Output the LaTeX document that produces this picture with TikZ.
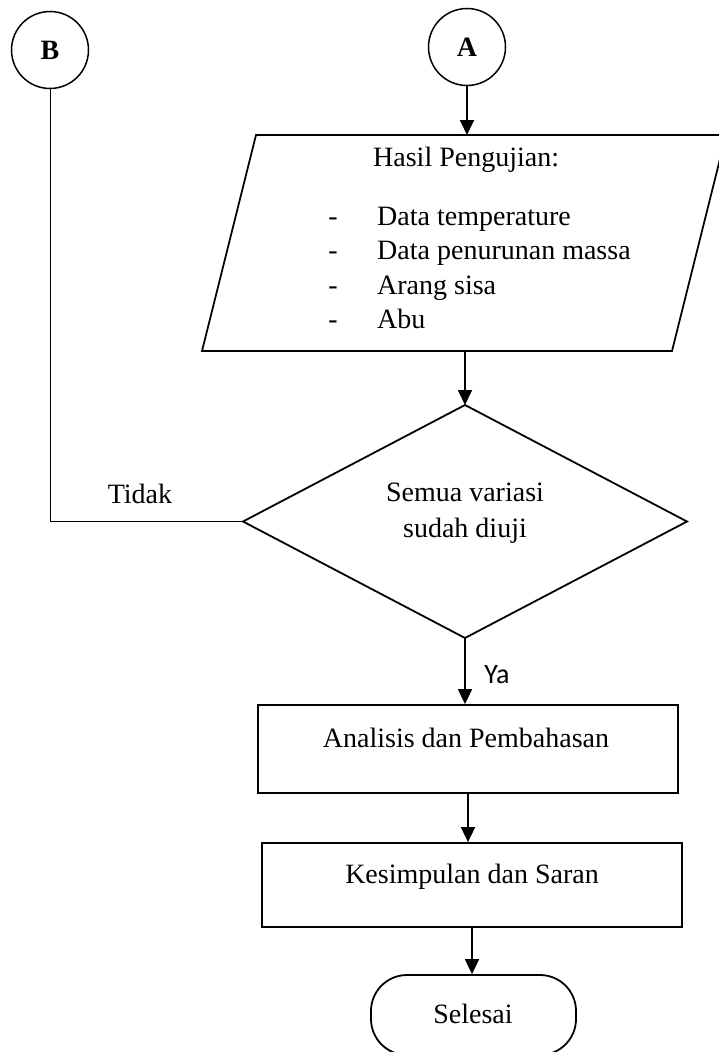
\documentclass[tikz,border=0pt]{standalone}
\usepackage{fontspec}
\setmainfont{Liberation Serif}
\newfontfamily\calibri{Carlito}
\usetikzlibrary{arrows.meta,shapes.geometric}
\begin{document}
\begin{tikzpicture}[x=1pt,y=-1pt,
  every node/.style={font=\fontsize{28}{34}\selectfont, inner sep=0pt},
  shapeline/.style={draw=black, line width=1.8pt},
  conn/.style={draw=black, line width=1.8pt, -{Triangle[length=15pt,width=14pt]}},
  thinconn/.style={draw=black, line width=1pt},
  connector/.style={draw=black, line width=1.5pt, circle, minimum size=77pt, font=\fontsize{28}{34}\selectfont\bfseries},
  procbox/.style={shapeline, rectangle, minimum width=420pt},
  txt/.style={anchor=base}
]
\useasboundingbox (0,0) rectangle (718,1052);
\fill[white] (0,0) rectangle (718,1052);

% connectors circles
\node[connector] (B) at (50,50) {B};
\node[connector] (A) at (467,47) {A};

% parallelogram (input/output)
\draw[shapeline] (256,135) -- (726,135) -- (672,351) -- (202,351) -- cycle;
\coordinate (parTop) at (467,135);
\coordinate (parBot) at (465,351);
\node[anchor=base west] (hasil) at (373,166) {Hasil Pengujian:};
\node[txt] (d1) at (333,225) {-};
\node[txt] (d2) at (333,259) {-};
\node[txt] (d3) at (333,294) {-};
\node[txt] (d4) at (333,328) {-};
\node[anchor=base west] (l1) at (377,225) {Data temperature};
\node[anchor=base west] (l2) at (377,259) {Data penurunan massa};
\node[anchor=base west] (l3) at (377,294) {Arang sisa};
\node[anchor=base west] (l4) at (377,328) {Abu};

% decision
\node[shapeline, diamond, minimum width=444pt, minimum height=233pt, outer sep=0pt] (dec) at (465,521.5) {};
\node[txt] (dec1) at (465,501) {Semua variasi};
\node[txt] (dec2) at (465,537) {sudah diuji};
\node[txt] (tidak) at (140,503) {Tidak};

% process boxes
\node[procbox, minimum height=88pt] (r1) at (468,749) {};
\node[txt] (r1t) at (466,747) {Analisis dan Pembahasan};
\node[procbox, minimum height=84pt] (r2) at (472,885) {};
\node[txt] (r2t) at (472,883) {Kesimpulan dan Saran};

% terminal
\node[shapeline, rectangle, rounded corners=36pt, minimum width=205pt, minimum height=80pt] (end) at (473.5,1015) {};
\node[txt] (endt) at (473,1023) {Selesai};

% Ya label
\node[txt, font=\fontsize{28}{34}\selectfont\calibri] (ya) at (497,683) {Ya};

% connectors
\draw[conn] (A.south) -- (parTop);
\draw[conn] (parBot) -- (dec.north);
\draw[conn] (dec.south) -- (dec.south |- r1.north);
\draw[conn] (r1.south) -- (r1.south |- r2.north);
\draw[conn] (r2.south) -- (r2.south |- end.north);
\draw[thinconn] (B.south) -- (B.south |- dec.west) -- (dec.west);
\end{tikzpicture}
\end{document}
